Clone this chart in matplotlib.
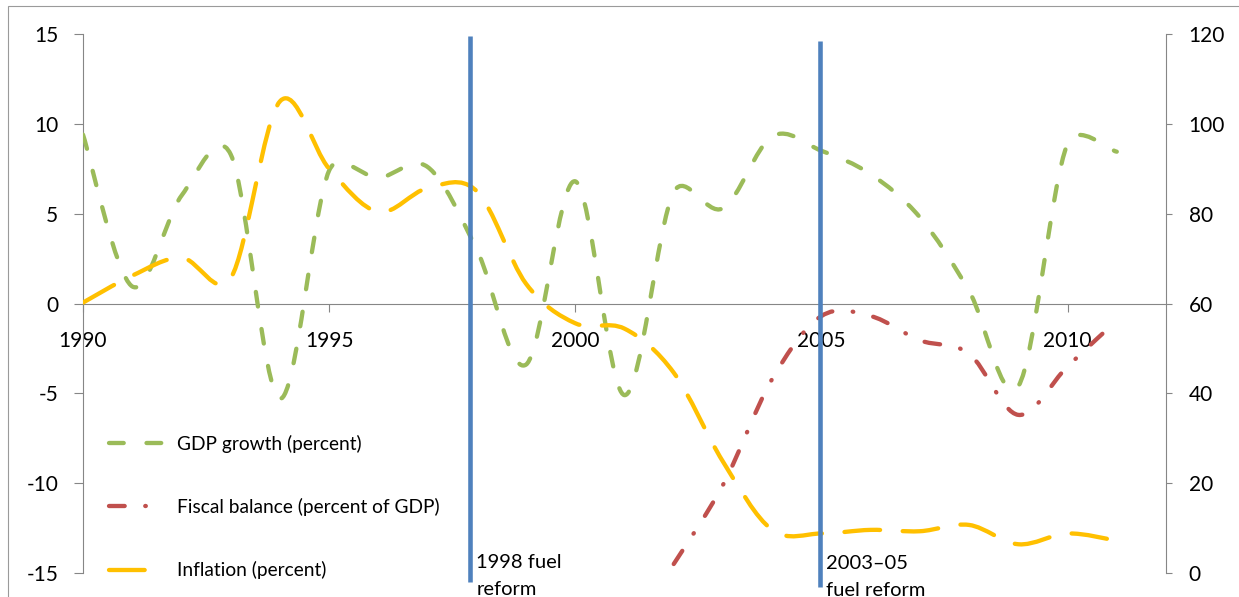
import numpy as np
import matplotlib
matplotlib.use("Agg")
import matplotlib.pyplot as plt
from matplotlib.path import Path
from matplotlib.patches import PathPatch, Rectangle
from matplotlib.lines import Line2D

# ---------------- data ----------------
years = list(range(1990, 2012))
gdp_growth = [9.4, 0.95, 6.0, 8.3, -5.3, 7.4, 7.0, 7.6, 3.0, -3.4, 6.8,
              -5.1, 6.2, 5.3, 9.3, 8.5, 7.2, 4.8, 0.7, -4.6, 8.9, 8.45]
fiscal_years = list(range(2002, 2012))
fiscal_balance = [-14.5, -10.1, -4.2, -0.7, -0.7, -2.05, -2.8, -6.2, -3.5, -0.95]
inflation = [60.2, 66.2, 70.2, 65.6, 105.0, 90.0, 80.4, 85.7, 85.0, 64.4, 55.6,
             54.4, 44.6, 24.8, 9.6, 8.8, 9.6, 9.3, 10.7, 6.4, 8.8, 7.2]

x_ticks = [1990, 1995, 2000, 2005, 2010]
left_ticks = [-15, -10, -5, 0, 5, 10, 15]
left_tick_labels = ["-15", "-10", "-5", "0", "5", "10", "15"]
right_ticks = [0, 20, 40, 60, 80, 100, 120]
right_tick_labels = ["0", "20", "40", "60", "80", "100", "120"]

reform_x = [1997.87, 2004.97]
reform_labels = ["1998 fuel\nreform", "2003\u201305\nfuel reform"]

series_labels = ["GDP growth (percent)", "Fiscal balance (percent of GDP)", "Inflation (percent)"]

# ---------------- style ----------------
plt.rcParams["font.family"] = ["Lato", "DejaVu Sans"]
plt.rcParams["lines.scale_dashes"] = False
plt.rcParams["axes.unicode_minus"] = False

GREEN = "#9BBB59"
RED = "#C0504D"
ORANGE = "#FFC000"
BLUE = "#4F81BD"
GRAY = "#868686"
LW = 3.1
DASH_GDP = (0, (10.6, 16.4))
DASH_FISCAL = (0, (11.3, 14.8, 0.4, 14.8))
DASH_INFL = (0, (25.7, 16.3))

W, H = 1239, 597
fig = plt.figure(figsize=(W / 100, H / 100), dpi=100)
fig.patch.set_facecolor("white")

# outer chart frame
fig.add_artist(Rectangle((8 / W, -0.05), 1.2, (H - 6) / H + 0.05,
                         transform=fig.transFigure, fill=False,
                         edgecolor="#9a9a9a", lw=0.8))

left, right, top, bottom = 83, 1166, 34, 573
ax = fig.add_axes([left / W, (H - bottom) / H, (right - left) / W, (bottom - top) / H])
ax2 = ax.twinx()

ax.set_xlim(1990, 2012)
ax.set_ylim(-15, 15)
ax2.set_ylim(0, 120)

for s in ["top", "right"]:
    ax.spines[s].set_visible(False)
ax.spines["left"].set_color(GRAY)
ax.spines["left"].set_linewidth(0.8)
ax.spines["bottom"].set_position(("data", 0))
ax.spines["bottom"].set_color(GRAY)
ax.spines["bottom"].set_linewidth(0.8)
for s in ["top", "left", "bottom"]:
    ax2.spines[s].set_visible(False)
ax2.spines["right"].set_color(GRAY)
ax2.spines["right"].set_linewidth(0.8)

ax.set_xticks(x_ticks)
ax.set_xticklabels([str(t) for t in x_ticks])
ax.set_yticks(left_ticks)
ax.set_yticklabels(left_tick_labels)
ax2.set_yticks(right_ticks)
ax2.set_yticklabels(right_tick_labels)

ax.tick_params(axis="x", direction="out", length=5.8, width=0.8, color=GRAY,
               labelsize=15, pad=14)
ax.tick_params(axis="y", direction="out", length=6.3, width=0.8, color=GRAY,
               labelsize=15, pad=11.5)
ax2.tick_params(axis="y", direction="out", length=4.3, width=0.8, color=GRAY,
                labelsize=15, pad=12)


def excel_smooth_path(axis, xs, ys):
    """Bezier path through the data points, like Excel's smoothed line."""
    pts = axis.transData.transform(np.column_stack([xs, ys]))
    n = len(pts)
    verts = [pts[0]]
    codes = [Path.MOVETO]
    for i in range(n - 1):
        p0 = pts[i - 1] if i > 0 else pts[i]
        p1 = pts[i]
        p2 = pts[i + 1]
        p3 = pts[i + 2] if i + 2 < n else pts[i + 1]
        d12 = np.hypot(*(p2 - p1))
        t1 = p2 - p0
        l1 = np.hypot(*t1)
        t2 = p3 - p1
        l2 = np.hypot(*t2)
        c1 = p1 + t1 / l1 * min(l1 / 6, d12 / 2) if l1 > 0 else p1
        c2 = p2 - t2 / l2 * min(l2 / 6, d12 / 2) if l2 > 0 else p2
        verts += [c1, c2, p2]
        codes += [Path.CURVE4] * 3
    verts = axis.transData.inverted().transform(np.array(verts))
    return Path(verts, codes)


def draw_series(axis, xs, ys, color, ls, z):
    patch = PathPatch(excel_smooth_path(axis, xs, ys), fill=False,
                      edgecolor=color, lw=LW, linestyle=ls, capstyle="round",
                      joinstyle="round", zorder=z)
    axis.add_patch(patch)


draw_series(ax, years, gdp_growth, GREEN, DASH_GDP, 3)
draw_series(ax, fiscal_years, fiscal_balance, RED, DASH_FISCAL, 4)
draw_series(ax2, years, inflation, ORANGE, DASH_INFL, 3)

# reform markers (vertical lines + labels)
line_spans = [(119.55, -2.0), (118.4, -3.1)]
label_base = [-4.9, -5.12]   # baseline of the last text line (right-axis units)
for xv, (y0, y1), lab, yb in zip(reform_x, line_spans, reform_labels, label_base):
    ax2.plot([xv, xv], [y0, y1], color=BLUE, lw=3.3, solid_capstyle="butt",
             clip_on=False, zorder=10)
    ax2.annotate(lab, xy=(xv, yb), xytext=(4.2, 0), textcoords="offset points",
                 ha="left", va="baseline", fontsize=14.5, linespacing=1.74,
                 annotation_clip=False, zorder=10)

handles = [
    Line2D([], [], color=GREEN, lw=LW, linestyle=DASH_GDP, dash_capstyle="round"),
    Line2D([], [], color=RED, lw=LW, linestyle=DASH_FISCAL, dash_capstyle="round"),
    Line2D([], [], color=ORANGE, lw=LW, linestyle=DASH_INFL, dash_capstyle="round"),
]
LEG_FS = 13.8
ax2.legend(handles, series_labels, loc="upper left",
           bbox_to_anchor=(109 / W, 1 - 435 / H), bbox_transform=fig.transFigure,
           frameon=False, borderpad=0, borderaxespad=0,
           handlelength=57 / (LEG_FS * 100 / 72), handletextpad=0.55,
           labelspacing=2.35, fontsize=LEG_FS)

fig.savefig("out.png", dpi=100)
